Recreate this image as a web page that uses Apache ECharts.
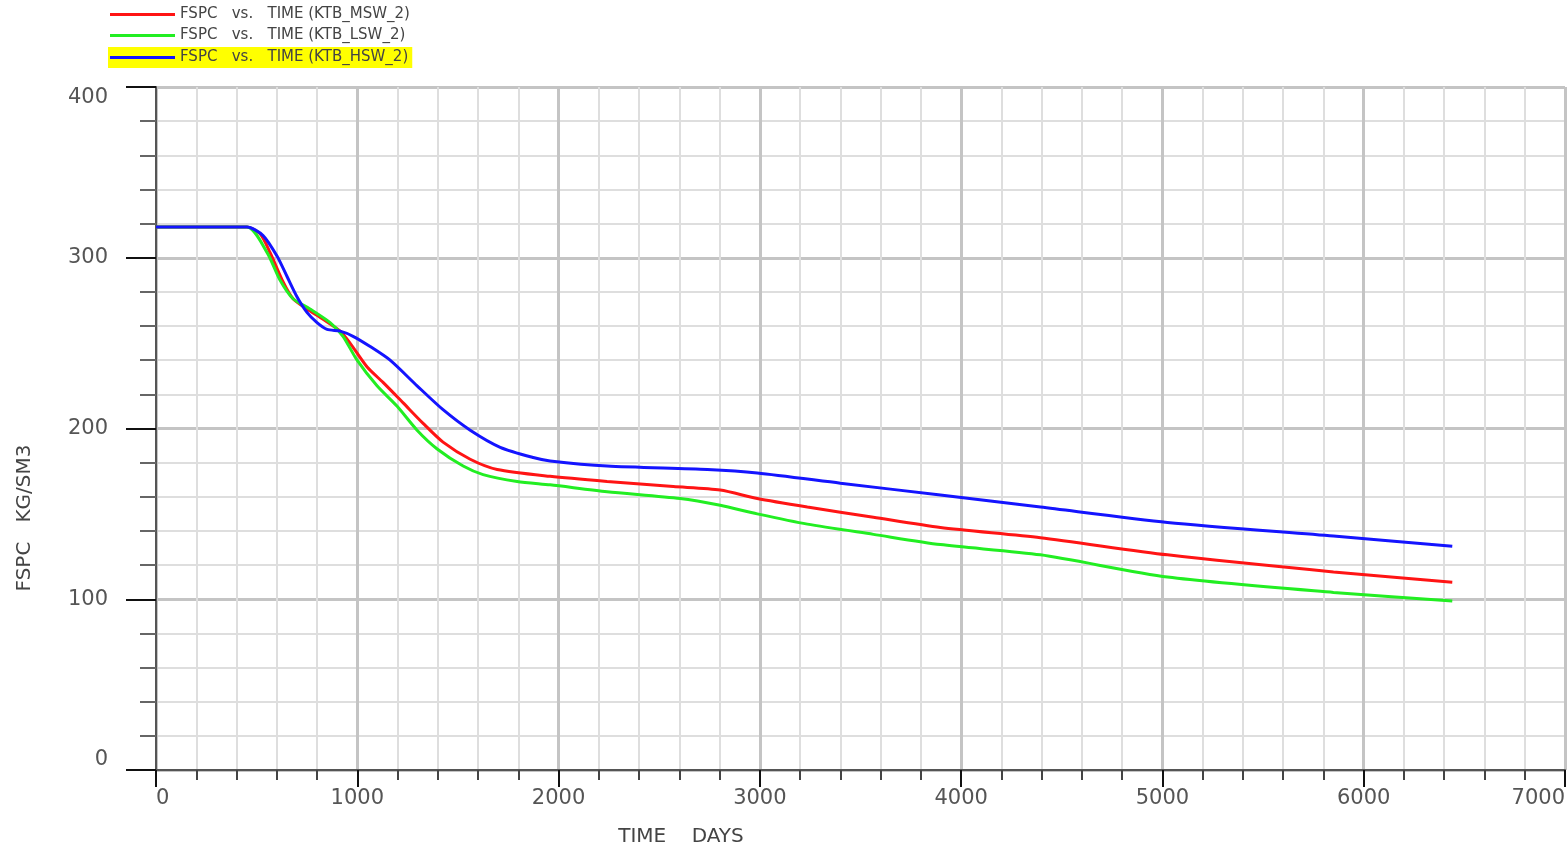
<!DOCTYPE html>
<html>
<head>
<meta charset="utf-8">
<script src="https://cdn.jsdelivr.net/npm/echarts@6/dist/echarts.min.js"></script>
<style>
html,body{margin:0;padding:0;background:#fff;}
#chart{width:1567px;height:851px;}
</style>
</head>
<body>
<div id="chart"></div>
<script>
// ---- data ----
const seriesNames = ['FSPC   vs.   TIME (KTB_MSW_2)', 'FSPC   vs.   TIME (KTB_LSW_2)', 'FSPC   vs.   TIME (KTB_HSW_2)'];

const mswDays = [0, 452, 517, 567, 631, 681, 750, 830, 915, 964, 1049, 1128, 1228, 1327, 1426, 1561, 1695, 1958, 2241, 2570, 2803, 2987, 3236, 3564, 3897, 4394, 5025, 5850, 6440];
const mswFspc = [318, 318, 314, 303, 286, 276, 270, 264, 257, 250, 236, 227, 215, 203, 192, 182, 176, 172, 169, 166, 164, 159, 154, 148, 142, 136, 126, 116, 110];

const lswDays = [0, 452, 552, 616, 681, 765, 865, 929, 999, 1098, 1198, 1297, 1397, 1526, 1625, 1794, 1958, 2241, 2604, 2803, 2987, 3236, 3564, 3897, 4394, 5025, 5850, 6440];
const lswFspc = [318, 318, 303, 287, 276, 270, 262, 254, 240, 225, 213, 199, 188, 178, 173, 169, 167, 163, 159, 155, 150, 144, 138, 132, 126, 113, 104, 99];

const hswDays = [0, 452, 532, 601, 651, 701, 750, 800, 850, 915, 979, 1064, 1163, 1297, 1426, 1561, 1710, 1874, 1958, 2241, 2739, 2987, 3400, 3897, 4394, 5025, 5850, 6440];
const hswFspc = [318, 318, 313, 301, 289, 277, 268, 262, 258, 257, 254, 248, 240, 225, 211, 199, 189, 183, 181, 178, 176, 174, 168, 161, 154, 145, 137, 131];

const xTitle = 'TIME    DAYS';
const yTitle = 'FSPC   KG/SM3';

// ---- chart ----
const zip = (xs, ys) => xs.map((x, i) => [x, ys[i]]);
const FONT = 'DejaVu Sans';
const colors = ['#ff1414', '#22ee22', '#1414ff'];
const seriesData = [zip(mswDays, mswFspc), zip(lswDays, lswFspc), zip(hswDays, hswFspc)];

const chart = echarts.init(document.getElementById('chart'), null, {renderer: 'canvas'});

const legendTops = [4, 25, 47];
const legends = seriesNames.map((n, i) => ({
  data: [{name: n, icon: 'rect'}],
  left: 108,
  top: legendTops[i],
  orient: 'horizontal',
  padding: [3, 4, 3, 2],
  itemWidth: 65,
  itemHeight: 3,
  itemGap: 5,
  selectedMode: false,
  backgroundColor: i === 2 ? '#ffff00' : 'transparent',
  textStyle: {fontFamily: FONT, fontSize: 15, color: '#444', padding: [0, 0, 0, 0], lineHeight: 14}
}));

const option = {
  backgroundColor: '#ffffff',
  animation: false,
  legend: legends,
  grid: {left: 156, right: 2, top: 87, bottom: 81, containLabel: false, outerBoundsMode: 'none'},
  xAxis: {
    type: 'value',
    min: 0, max: 7000, interval: 1000,
    axisLine: {show: true, onZero: false, lineStyle: {color: '#555', width: 2}},
    axisTick: {show: true, length: 17, lineStyle: {color: '#111', width: 2}},
    minorTick: {show: true, splitNumber: 5, length: 10, lineStyle: {color: '#444', width: 2}},
    axisLabel: {fontFamily: FONT, fontSize: 21, color: '#555', margin: 18, alignMinLabel: 'left', alignMaxLabel: 'right',
                formatter: v => String(v)},
    splitLine: {show: true, lineStyle: {color: '#c4c4c4', width: 3}},
    minorSplitLine: {show: true, lineStyle: {color: '#dedede', width: 2}}
  },
  yAxis: {
    type: 'value',
    min: 0, max: 400, interval: 100,
    axisLine: {show: true, onZero: false, lineStyle: {color: '#555', width: 2}},
    axisTick: {show: true, length: 30, lineStyle: {color: '#111', width: 2}},
    minorTick: {show: true, splitNumber: 5, length: 16, lineStyle: {color: '#666', width: 2}},
    axisLabel: {fontFamily: FONT, fontSize: 21, color: '#555', margin: 48,
                verticalAlignMinLabel: 'bottom', verticalAlignMaxLabel: 'top',
                formatter: v => String(v)},
    splitLine: {show: true, lineStyle: {color: '#c4c4c4', width: 3}},
    minorSplitLine: {show: true, lineStyle: {color: '#dedede', width: 2}}
  },
  graphic: [
    {type: 'text', x: 25, y: 518, rotation: Math.PI / 2,
     style: {text: yTitle, fontFamily: FONT, fontSize: 20, fill: '#444', textAlign: 'center', textVerticalAlign: 'middle'}},
    {type: 'text', x: 681, y: 837,
     style: {text: xTitle, fontFamily: FONT, fontSize: 20, fill: '#444', textAlign: 'center', textVerticalAlign: 'middle'}}
  ],
  series: seriesNames.map((n, i) => ({
    name: n,
    type: 'line',
    data: seriesData[i],
    showSymbol: false,
    symbol: 'none',
    smooth: 0.25,
    color: colors[i],
    lineStyle: {color: colors[i], width: 3},
    z: 3 + i
  }))
};

chart.setOption(option);
</script>
</body>
</html>
